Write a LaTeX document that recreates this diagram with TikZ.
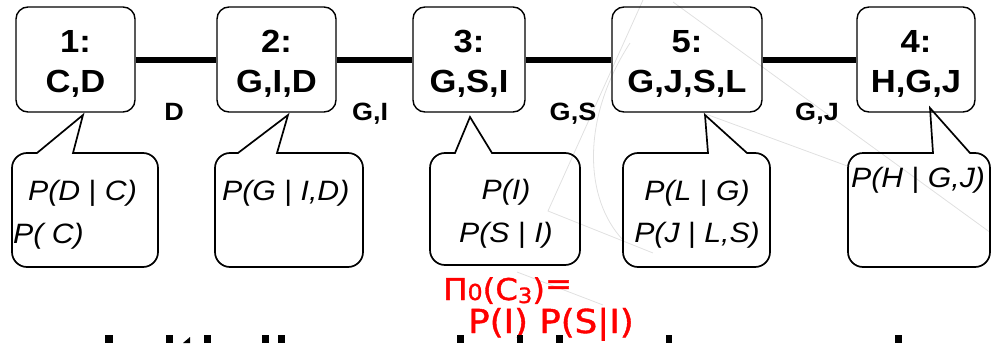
\documentclass[tikz,border=0pt]{standalone}
\usepackage{fontspec}
\setmainfont{Liberation Sans}[FakeStretch=1.08]
\newfontfamily\inkfont{DejaVu Sans}[FakeStretch=1.08,FakeBold=1.2]

% speech bubble: #1 left, #2 right, #3 top, #4 bottom,
% #5 tail base (left), #6/#7 tail tip, #8 tail base (right)
\newcommand\drawbubble[8]{%
  \draw[bubble] (#8,#3) -- (#2-15,#3)
    arc[start angle=90,end angle=0,radius=15pt] -- (#2,#4-15)
    arc[start angle=0,end angle=-90,radius=15pt] -- (#1+15,#4)
    arc[start angle=270,end angle=180,radius=15pt] -- (#1,#3+15)
    arc[start angle=180,end angle=90,radius=15pt] -- (#5,#3)
    -- (#6,#7) -- cycle;}

\begin{document}
\begin{tikzpicture}[x=1pt,y=-1pt,
  clique/.style={draw=black, line width=1.4pt, rounded corners=12pt,
    minimum width=#1, minimum height=105pt, inner sep=0pt},
  cliquetext/.style={anchor=base, inner sep=0pt,
    font=\fontsize{32}{38}\selectfont\bfseries},
  link/.style={line width=6pt, black},
  sepset/.style={anchor=base, inner sep=0pt,
    font=\fontsize{25}{30}\selectfont\bfseries},
  bubble/.style={draw=black, line width=1.7pt},
  factor/.style={inner sep=0pt, font=\fontsize{28}{34}\selectfont\itshape},
  ink/.style={text=red, inner sep=0pt, anchor=base west,
    font=\inkfont\fontsize{33}{38}\selectfont},
  faint/.style={draw=black!12, line width=0.8pt}]

\useasboundingbox (0,0) rectangle (991,343);

% light background strokes
\draw[faint] (643,0) -- (548,211) -- (653,253);
\draw[faint] (517,272) -- (603,305);
\draw[faint] (673,2) -- (991,233);
\draw[faint] (703,113) -- (850,167);
\draw[faint] (630,43) .. controls (580,120) and (585,200) .. (623,240);

% cliques
\node[clique=119pt] (c1) at (75.5,59.5) {};
\node[clique=119pt] (c2) at (276.5,59.5) {};
\node[clique=112pt] (c3) at (469,59.5) {};
\node[clique=150pt] (c5) at (687,59.5) {};
\node[clique=118pt] (c4) at (916,59.5) {};

\node[cliquetext] (c1id) at (75.5,52) {1:};
\node[cliquetext] (c1v)  at (75.5,92) {C,D};
\node[cliquetext] (c2id) at (276.5,52) {2:};
\node[cliquetext] (c2v)  at (276.5,92) {G,I,D};
\node[cliquetext] (c3id) at (469,52) {3:};
\node[cliquetext] (c3v)  at (469,92) {G,S,I};
\node[cliquetext] (c5id) at (687,52) {5:};
\node[cliquetext] (c5v)  at (687,92) {G,J,S,L};
\node[cliquetext] (c4id) at (916,52) {4:};
\node[cliquetext] (c4v)  at (916,92) {H,G,J};

% tree edges and sepsets
\draw[link] (c1) -- (c2);
\draw[link] (c2) -- (c3);
\draw[link] (c3) -- (c5);
\draw[link] (c5) -- (c4);

\node[sepset] (s12) at (174,120) {D};
\node[sepset] (s23) at (370,120) {G,I};
\node[sepset] (s35) at (573,120) {G,S};
\node[sepset] (s54) at (817,120) {G,J};

% factor assignments
\drawbubble{12}{158}{153}{267}{37}{83}{115}{73}
\drawbubble{215}{363}{153}{267}{238}{288}{115}{277}
\drawbubble{430}{580}{153}{265}{455}{470}{117}{492}
\drawbubble{623}{770}{153}{267}{708}{705}{115}{747}
\drawbubble{848}{990}{153}{267}{933}{930}{108}{970}

\node[factor, anchor=base west] (f1a) at (28,200) {P(D {\upshape|} C)};
\node[factor, anchor=base west] (f1b) at (13,243) {P( C)};
\node[factor, anchor=base west] (f2a) at (222,200) {P(G {\upshape|} I,D)};
\node[factor, anchor=base] (f3a) at (506,199) {P(I)};
\node[factor, anchor=base] (f3b) at (506,242) {P(S {\upshape|} I)};
\node[factor, anchor=base] (f5a) at (697,200) {P(L {\upshape|} G)};
\node[factor, anchor=base] (f5b) at (697,242) {P(J {\upshape|} L,S)};
\node[factor, anchor=base west] (f4a) at (851,187) {P(H {\upshape|} G,J)};

% handwritten note
\node[ink, font=\inkfont\fontsize{30}{34}\selectfont] (note1) at (443,300)
  {Π{\fontsize{22}{22}\selectfont 0}(C\raisebox{-3pt}{\fontsize{21}{21}\selectfont 3})\raisebox{6pt}{=}};
\node[ink] (note2) at (468,333) {P(I) P(S|I)};

% tops of the line below
\fill (105,335) rectangle (113,343);
\fill (166,335) rectangle (173,343);
\fill (183,343) -- (190,337) -- (190,343) -- cycle;
\fill (204,335) rectangle (211,343);
\fill (262,335) rectangle (269,343);
\fill (278,335) rectangle (285,343);
\fill (457,335) rectangle (464,343);
\fill (517,335) rectangle (523,343);
\fill (556,335) rectangle (563,343);
\fill (666,335) rectangle (672,343);
\fill (895,335) rectangle (902,343);
\end{tikzpicture}
\end{document}
